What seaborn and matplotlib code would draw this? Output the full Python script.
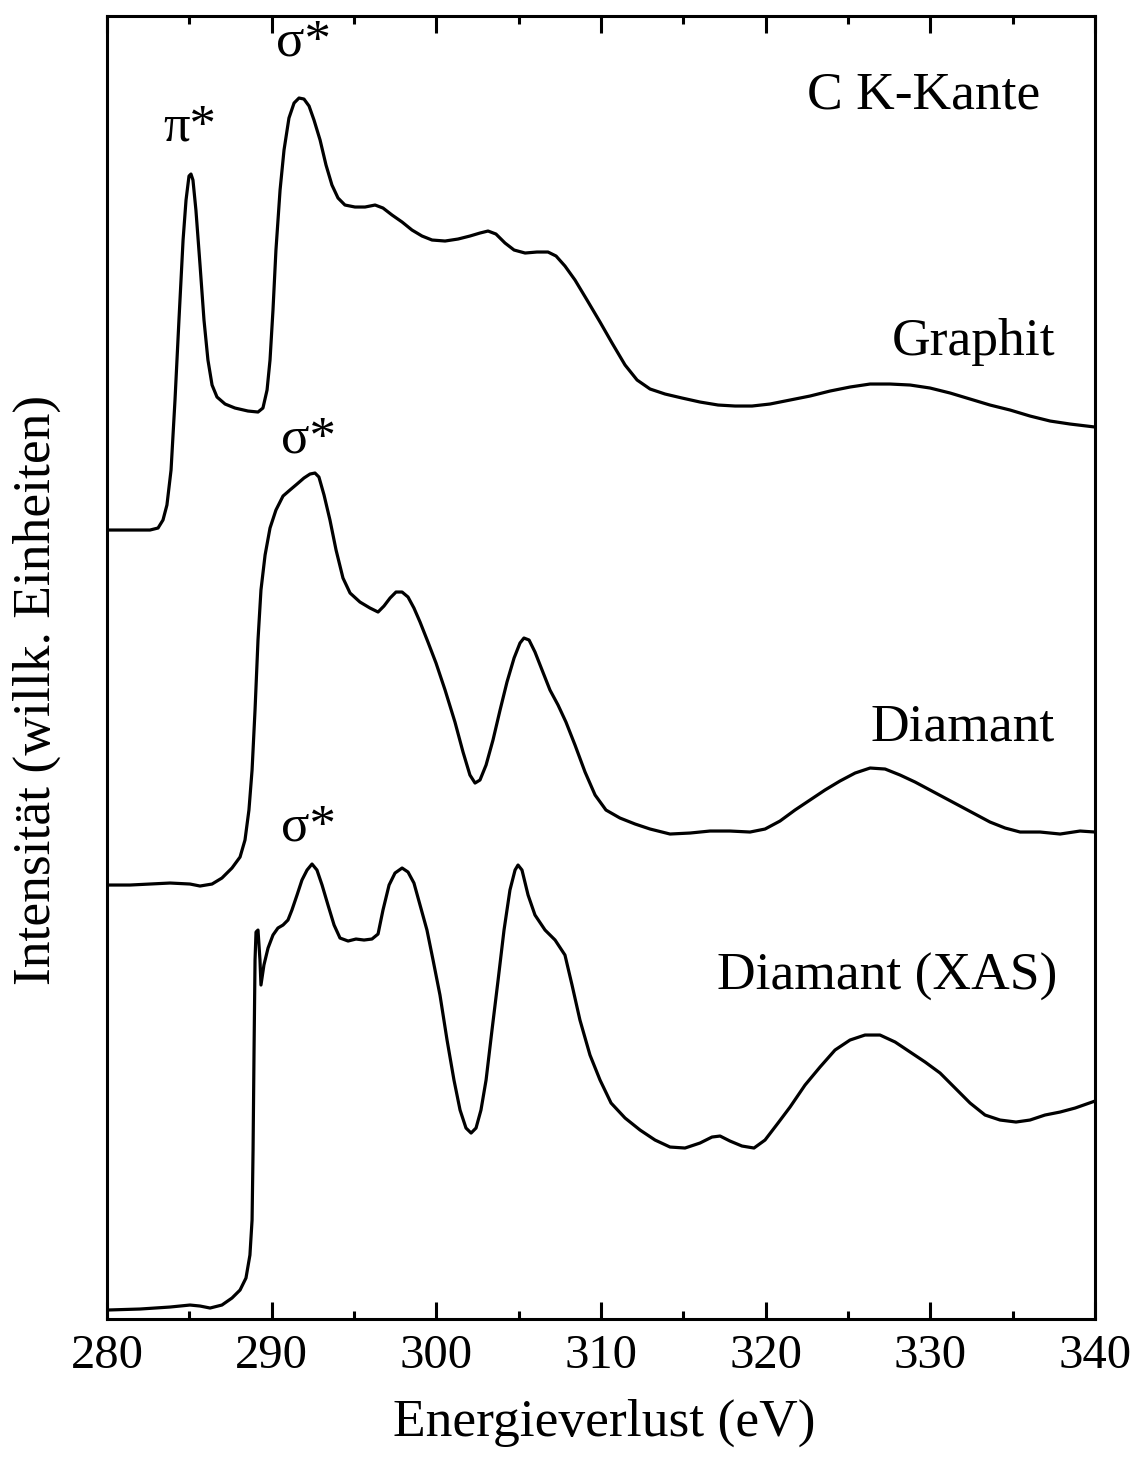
import matplotlib
matplotlib.use("Agg")
import matplotlib.pyplot as plt
import seaborn as sns
import pandas as pd
from matplotlib.ticker import MultipleLocator, NullLocator

# --- C K-edge spectra (energy loss in eV, intensity in arbitrary units, stacked) ---
graphit_e = [280.00, 281.40, 282.61, 283.10, 283.40, 283.64, 283.89, 284.13, 284.37, 284.62,
             284.80, 284.98, 285.10, 285.22, 285.40, 285.65, 285.89, 286.13, 286.38, 286.68,
             287.17, 287.77, 288.56, 289.17, 289.47, 289.72, 289.90, 290.08, 290.26, 290.51,
             290.75, 291.05, 291.36, 291.66, 291.96, 292.27, 292.57, 292.94, 293.30, 293.66,
             294.03, 294.45, 295.06, 295.67, 296.28, 296.76, 297.31, 297.92, 298.52, 299.13,
             299.74, 300.53, 301.32, 302.04, 302.65, 303.14, 303.62, 304.17, 304.72, 305.39,
             306.11, 306.78, 307.27, 307.81, 308.42, 309.15, 309.94, 310.67, 311.46, 312.19,
             312.98, 313.89, 314.92, 316.01, 317.11, 318.14, 319.17, 320.26, 321.48, 322.69,
             323.91, 325.12, 326.34, 327.55, 328.77, 329.98, 331.20, 332.41, 333.62, 334.84,
             336.05, 337.27, 338.48, 340.00]
graphit_i = [7.89, 7.89, 7.89, 7.91, 7.99, 8.14, 8.49, 9.19, 9.99, 10.79,
             11.19, 11.43, 11.45, 11.39, 11.09, 10.54, 9.99, 9.59, 9.34, 9.22,
             9.15, 9.11, 9.08, 9.07, 9.11, 9.29, 9.59, 10.09, 10.69, 11.29,
             11.69, 12.01, 12.16, 12.21, 12.20, 12.13, 11.99, 11.79, 11.54, 11.34,
             11.21, 11.14, 11.12, 11.12, 11.14, 11.11, 11.04, 10.97, 10.89, 10.83,
             10.79, 10.78, 10.80, 10.83, 10.86, 10.88, 10.85, 10.76, 10.69, 10.66,
             10.67, 10.67, 10.63, 10.53, 10.39, 10.19, 9.97, 9.76, 9.54, 9.39,
             9.30, 9.25, 9.21, 9.17, 9.14, 9.13, 9.13, 9.15, 9.19, 9.23,
             9.28, 9.32, 9.35, 9.35, 9.34, 9.31, 9.26, 9.20, 9.14, 9.09,
             9.03, 8.98, 8.95, 8.92]

diamant_e = [280.00, 281.40, 282.61, 283.83, 285.04, 285.65, 286.38, 286.98, 287.59, 288.08,
             288.38, 288.62, 288.81, 288.99, 289.17, 289.35, 289.60, 289.90, 290.26, 290.69,
             291.11, 291.54, 291.96, 292.33, 292.63, 292.87, 293.18, 293.54, 293.91, 294.33,
             294.76, 295.36, 295.97, 296.46, 296.82, 297.19, 297.55, 297.92, 298.28, 298.64,
             299.01, 299.49, 299.98, 300.53, 301.13, 301.62, 302.04, 302.35, 302.65, 303.02,
             303.44, 303.87, 304.29, 304.72, 305.08, 305.32, 305.63, 305.99, 306.42, 306.90,
             307.39, 307.87, 308.42, 309.03, 309.64, 310.30, 311.15, 312.07, 312.98, 314.19,
             315.41, 316.62, 317.83, 319.05, 319.96, 320.87, 321.78, 322.69, 323.60, 324.51,
             325.43, 326.34, 327.25, 328.16, 329.07, 329.98, 330.89, 331.80, 332.71, 333.62,
             334.54, 335.45, 336.66, 337.88, 339.09, 340.00]
diamant_i = [4.34, 4.34, 4.35, 4.36, 4.35, 4.33, 4.35, 4.41, 4.51, 4.62,
             4.79, 5.09, 5.49, 6.09, 6.79, 7.29, 7.64, 7.91, 8.09, 8.23,
             8.29, 8.35, 8.41, 8.45, 8.46, 8.42, 8.24, 7.99, 7.69, 7.41,
             7.26, 7.17, 7.11, 7.07, 7.13, 7.21, 7.27, 7.27, 7.22, 7.11,
             6.97, 6.77, 6.56, 6.29, 5.97, 5.67, 5.44, 5.36, 5.39, 5.54,
             5.79, 6.09, 6.37, 6.61, 6.76, 6.81, 6.79, 6.67, 6.49, 6.29,
             6.14, 5.97, 5.74, 5.47, 5.24, 5.09, 5.01, 4.95, 4.90, 4.85,
             4.86, 4.88, 4.88, 4.87, 4.90, 4.98, 5.09, 5.19, 5.29, 5.38,
             5.46, 5.51, 5.50, 5.44, 5.37, 5.29, 5.21, 5.13, 5.05, 4.97,
             4.91, 4.87, 4.87, 4.85, 4.88, 4.87]

xas_e = [280.00, 282.00, 283.83, 285.04, 285.65, 286.26, 286.98, 287.59, 288.08, 288.44,
         288.68, 288.81, 288.87, 288.93, 288.99, 289.05, 289.17, 289.29, 289.35, 289.53,
         289.78, 290.08, 290.38, 290.69, 290.99, 291.23, 291.54, 291.84, 292.15, 292.45,
         292.75, 293.06, 293.42, 293.79, 294.15, 294.64, 295.12, 295.61, 296.09, 296.46,
         296.76, 297.13, 297.49, 297.92, 298.28, 298.64, 299.01, 299.43, 299.80, 300.22,
         300.65, 301.07, 301.44, 301.80, 302.11, 302.41, 302.71, 303.02, 303.38, 303.75,
         304.11, 304.47, 304.78, 304.96, 305.20, 305.57, 305.99, 306.60, 307.21, 307.81,
         308.24, 308.72, 309.33, 309.94, 310.61, 311.46, 312.37, 313.28, 314.19, 315.10,
         316.01, 316.74, 317.23, 317.83, 318.56, 319.29, 319.96, 320.75, 321.48, 322.39,
         323.30, 324.21, 325.12, 326.03, 326.94, 327.86, 328.77, 329.68, 330.59, 331.50,
         332.41, 333.32, 334.23, 335.20, 336.05, 336.96, 337.88, 338.79, 340.00]
xas_i = [0.09, 0.10, 0.12, 0.14, 0.13, 0.11, 0.14, 0.21, 0.29, 0.41,
         0.64, 0.99, 1.69, 2.69, 3.59, 3.87, 3.89, 3.59, 3.34, 3.54,
         3.71, 3.84, 3.91, 3.94, 3.99, 4.09, 4.24, 4.39, 4.49, 4.55,
         4.49, 4.34, 4.14, 3.94, 3.81, 3.78, 3.80, 3.79, 3.80, 3.85,
         4.09, 4.34, 4.46, 4.51, 4.47, 4.36, 4.14, 3.89, 3.59, 3.24,
         2.79, 2.39, 2.09, 1.91, 1.86, 1.91, 2.09, 2.39, 2.89, 3.39,
         3.89, 4.29, 4.49, 4.54, 4.49, 4.24, 4.04, 3.89, 3.79, 3.64,
         3.34, 2.99, 2.64, 2.39, 2.16, 2.01, 1.89, 1.79, 1.72, 1.71,
         1.76, 1.82, 1.83, 1.78, 1.73, 1.71, 1.79, 1.96, 2.12, 2.34,
         2.52, 2.69, 2.79, 2.84, 2.84, 2.77, 2.67, 2.57, 2.46, 2.31,
         2.16, 2.04, 1.99, 1.97, 1.99, 2.04, 2.07, 2.11, 2.18]

series_names = ["Graphit", "Diamant", "Diamant (XAS)"]
x_ticks = [280, 290, 300, 310, 320, 330, 340]

# --- style ---
sns.set_theme(style="white")
plt.rcParams["font.family"] = ["Liberation Serif", "DejaVu Serif"]
plt.rcParams["text.color"] = "black"
plt.rcParams["axes.labelcolor"] = "black"
plt.rcParams["xtick.color"] = "black"
plt.rcParams["ytick.color"] = "black"

fig = plt.figure(figsize=(11.37, 14.70), dpi=100)
ax = fig.add_axes([0.0941, 0.1027, 0.8690, 0.8864])

frames = []
for name, e, i in zip(series_names, [graphit_e, diamant_e, xas_e], [graphit_i, diamant_i, xas_i]):
    frames.append(pd.DataFrame({"E": e, "I": i, "Spektrum": name}))
df = pd.concat(frames, ignore_index=True)

sns.lineplot(data=df, x="E", y="I", units="Spektrum", estimator=None, sort=False,
             color="black", linewidth=2.3, ax=ax, legend=False)

ax.set_xlim(280, 340)
ax.set_ylim(0, 13.03)
ax.xaxis.set_major_locator(MultipleLocator(10))
ax.xaxis.set_minor_locator(MultipleLocator(5))
ax.yaxis.set_major_locator(NullLocator())
ax.yaxis.set_minor_locator(NullLocator())
ax.set_xticks(x_ticks)

for sp in ax.spines.values():
    sp.set_visible(True)
    sp.set_linewidth(2.2)
    sp.set_color("black")

ax.tick_params(axis="x", which="major", direction="in", length=12, width=2.2,
               top=True, bottom=True, labelsize=35, pad=11, colors="black")
ax.tick_params(axis="x", which="minor", direction="in", length=6, width=2.2,
               top=True, bottom=True, colors="black")
ax.tick_params(axis="y", left=False, right=False, labelleft=False)

ax.set_xlabel("Energieverlust (eV)", fontsize=38.5, color="black")
ax.set_ylabel("Intensität (willk. Einheiten)", fontsize=38.5, color="black")
ax.xaxis.set_label_coords(0.503, -0.061)
ax.yaxis.set_label_coords(-0.047, 0.483)

# --- annotations ---
label_kw = dict(fontsize=38.5, ha="right", va="baseline", color="black")
ax.text(336.66, 12.11, "C K-Kante", **label_kw)
ax.text(337.57, 9.64, "Graphit", **label_kw)
ax.text(337.57, 5.79, "Diamant", **label_kw)
ax.text(337.69, 3.29, "Diamant (XAS)", **label_kw)

peak_kw = dict(fontsize=38, ha="center", va="baseline", color="black")
ax.text(285.04, 11.79, "π*", **peak_kw)
ax.text(291.90, 12.64, "σ*", **peak_kw)
ax.text(292.21, 8.67, "σ*", **peak_kw)
ax.text(292.21, 4.79, "σ*", **peak_kw)

fig.savefig("out.png", dpi=100, facecolor="white")
